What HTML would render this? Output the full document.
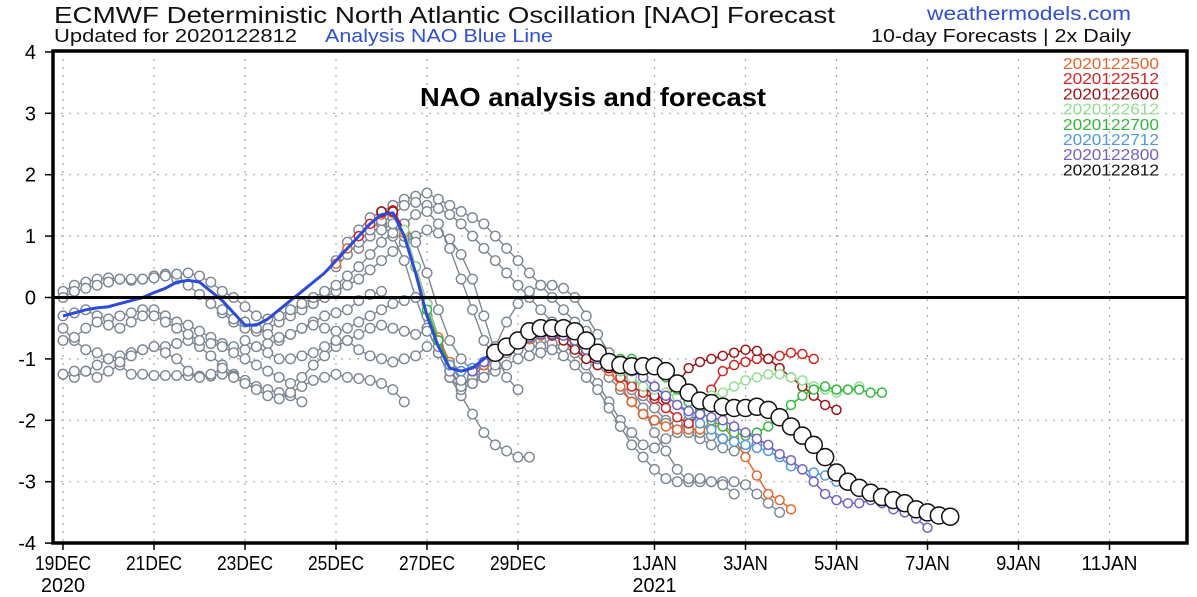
<!DOCTYPE html>
<html><head><meta charset="utf-8"><style>
html,body{margin:0;padding:0;background:#fff;}
svg{display:block;font-family:"Liberation Sans",sans-serif;}
</style></head><body>
<svg id="chart" width="1197" height="597" viewBox="0 0 1197 597">
<text x="54" y="23" font-size="23" fill="#111" textLength="781" lengthAdjust="spacingAndGlyphs">ECMWF Deterministic North Atlantic Oscillation [NAO] Forecast</text>
<text x="54" y="42" font-size="18" fill="#111" textLength="243" lengthAdjust="spacingAndGlyphs">Updated for 2020122812</text>
<text x="325" y="42" font-size="18" fill="#2f4fd8" textLength="228" lengthAdjust="spacingAndGlyphs">Analysis NAO Blue Line</text>
<text x="927" y="20" font-size="19" fill="#2f4fd8" textLength="204" lengthAdjust="spacingAndGlyphs">weathermodels.com</text>
<text x="871" y="42" font-size="18" fill="#111" textLength="260" lengthAdjust="spacingAndGlyphs">10-day Forecasts | 2x Daily</text>
<g id="grid"></g>
<g id="marks"></g>
<g id="axes"></g>
<text x="420" y="106" font-size="26" font-weight="bold" fill="#000" textLength="346" lengthAdjust="spacingAndGlyphs">NAO analysis and forecast</text>
<g id="legend"></g>
</svg>
<script>
const yTicks=[4,3,2,1,0,-1,-2,-3,-4];
const xTickDays=[0,2,4,6,8,10,13,15,17,19,21,23];
const xTickLabels=["19DEC","21DEC","23DEC","25DEC","27DEC","29DEC","1JAN","3JAN","5JAN","7JAN","9JAN","11JAN"];
const yearLabels=[["2020",0],["2021",13]];
const legendNames=["2020122500","2020122512","2020122600","2020122612","2020122700","2020122712","2020122800","2020122812"];
const legendColors=["#e8662a","#d8231e","#a01414","#8fe08f","#2fb93a","#4d9be0","#7461c8","#111111"];

const analysisStart=-0.25;
const analysis=[-0.35,-0.3,-0.25,-0.2,-0.17,-0.15,-0.1,-0.05,0.0,0.08,0.15,0.25,0.28,0.25,0.1,-0.05,-0.25,-0.45,-0.45,-0.35,-0.2,-0.05,0.1,0.25,0.4,0.6,0.8,1.0,1.2,1.35,1.38,1.0,0.4,-0.3,-0.8,-1.15,-1.2,-1.15,-1.0,-0.88];

const greyStarts=[-0.25,-0.25,-0.25,-0.25,-0.25,6,6.5,7,8,8,8.25,-0.25,-0.25,-0.25,3.5,4,6,7];
const grey1=[-1.2,-1.25,-1.3,-1.2,-1.1,-1.0,-0.95,-0.9,-0.85,-0.8,-0.8,-0.75,-0.7,-0.8,-0.95,-1.1,-1.25,-1.35,-1.45,-1.5,-1.55,-1.6,-1.7];
const grey2=[-1.3,-1.25,-1.2,-1.2,-1.3,-1.2,-1.1,-1.25,-1.25,-1.27,-1.27,-1.27,-1.27,-1.28,-1.28,-1.25,-1.28];
const grey3=[-2.05];
const grey4=[-0.4,-0.5,-0.7,-0.85,-0.9,-1.0,-1.05,-0.95,-0.85,-0.8,-0.9,-1.0,-1.2,-1.3,-1.25,-1.15,-1.3,-1.4,-1.5,-1.6,-1.65,-1.55,-1.45,-1.35,-1.3,-1.25,-1.3,-1.32,-1.35,-1.4,-1.5,-1.7];
const grey5=[-0.1,0,0.1,0.15,0.2,0.25,0.3,0.3,0.3,0.32,0.35,0.38,0.4,0.35,0.25,0.1,0.0,-0.15,-0.3,-0.35,-0.3,-0.2,-0.1,0.0,0.1,0.2,0.35,0.5,0.7,0.9,1.05,1.2,1.35,1.4,1.2,0.8,0.3,-0.2,-0.7,-1.0];
const grey6=[0.6,0.9,1.1,1.3,1.4,1.5,1.6,1.65,1.7,1.6,1.5,1.4,1.3,1.2,1.0,0.8,0.6,0.4,0.2,0.0,-0.2,-0.4,-0.55];
const grey7=[0.8,1.0,1.2,1.35,1.5,1.55,1.5,1.45,1.35,1.2,1.0,0.8,0.6,0.4,0.2,0.0,-0.2,-0.4,-0.6,-0.8,-0.9,-0.95];
const grey8=[1.2,1.0,0.6,0.0,-0.5,-0.9,-1.3,-1.6,-1.9,-2.2,-2.4,-2.5,-2.6,-2.6];
const grey9=[-0.3,-0.8,-1.2,-1.4,-1.3,-1.1,-0.8,-0.4,-0.1,0.1,0.2,0.2,0.15,0.0,-0.3,-0.6,-0.9,-1.2,-1.5,-1.8,-2.2,-2.5,-2.8,-3.0,-3.0,-3.0,-3.0,-3.0,-3.05,-3.2,-3.35,-3.5];
const grey10=[-0.5,-0.9,-1.3,-1.5,-1.4,-1.2,-0.9,-0.8,-0.75,-0.7,-0.7,-0.75,-0.8,-0.9,-1.1,-1.4,-1.7,-2.0,-2.2,-2.4,-2.45,-2.3,-2.2,-2.0,-1.9];
const grey11=[-0.8,-1.2,-1.45,-1.3,-1.1,-1.0,-0.9,-0.85,-0.8,-0.8,-0.85,-0.95,-1.1,-1.3,-1.5,-1.8,-2.1,-2.4,-2.6,-2.8,-2.95,-3.0,-2.95,-2.95,-3.0,-3.05,-3.2];
const grey12=[0.0,0.1,0.2,0.25,0.3,0.32,0.3,0.28,0.3,0.35,0.38,0.3,0.2,0.05,-0.1,-0.25,-0.4,-0.5,-0.55,-0.5,-0.4,-0.3,-0.2,-0.1,0.0,0.1,0.2,0.3,0.45,0.6,0.75,0.9,1.0,1.1,1.05,0.95,0.7,0.3,-0.3,-0.9,-1.3,-1.5];
const grey13=[-0.2,-0.3,-0.25,-0.2,-0.3,-0.35,-0.3,-0.25,-0.2,-0.2,-0.3,-0.4,-0.45,-0.55,-0.65,-0.75,-0.8,-0.85,-0.8,-0.75,-0.7,-0.6,-0.5,-0.4,-0.3,-0.25,-0.2,-0.05,0.05,0.1];
const grey14=[-0.6,-0.7,-0.65,-0.5,-0.4,-0.45,-0.5,-0.4,-0.3,-0.3,-0.4,-0.5,-0.6,-0.7,-0.75,-0.8,-0.9,-1.0,-1.1,-1.2,-1.3,-1.4,-1.3,-1.1,-0.95,-0.8,-0.7,-0.6,-0.5,-0.45,-0.5,-0.55,-0.6,-0.55];
const grey15=[-0.2,-0.35,-0.4,-0.5,-0.6,-0.65,-0.6,-0.5,-0.45,-0.5,-0.55,-0.5,-0.4,-0.3,-0.2,-0.1,-0.05];
const grey16=[-0.7,-0.8,-0.9,-1.0,-1.0,-0.95,-0.9,-0.8,-0.7,-0.7,-0.85,-0.95,-1.0,-1.05,-1.0,-0.95,-0.8];
const grey17=[0.5,0.7,0.9,1.1,1.25,1.3,1.2,0.9,0.4,-0.2,-0.7,-1.0,-1.2,-1.3,-1.2,-1.1,-1.0,-0.95,-0.9,-0.85,-0.8,-0.8,-0.85,-0.9,-1.0,-1.2,-1.4,-1.6,-1.8,-2.0,-2.1,-2.2,-2.3,-2.4,-2.45,-2.5,-2.45,-2.4];
const grey18=[1.1,1.2,1.0,0.5,-0.1,-0.7,-1.1,-1.35,-1.4,-1.3,-1.1,-0.9,-0.7,-0.55,-0.5,-0.55,-0.6,-0.7,-0.9,-1.1,-1.3,-1.5,-1.7,-1.9,-2.0,-2.05,-2.05,-2.1,-2.2,-2.25,-2.3];
const greySeries=[grey1,grey2,grey3,grey4,grey12,grey6,grey7,grey8,grey9,grey10,grey11,grey5,grey13,grey14,grey15,grey16,grey17,grey18];

const runStarts=[6,6.5,7,7.5,8,8.5,9,9.5];
const run00=[0.55,0.8,1.0,1.2,1.35,1.38,1.05,0.5,-0.1,-0.65,-1.05,-1.2,-1.2,-1.1,-0.95,-0.85,-0.75,-0.68,-0.62,-0.62,-0.65,-0.72,-0.85,-1.0,-1.2,-1.45,-1.7,-1.9,-2.0,-2.1,-2.15,-2.15,-2.15,-2.1,-2.1,-2.3,-2.6,-2.9,-3.2,-3.3,-3.45];
const run12=[1.0,1.2,1.38,1.42,1.1,0.5,-0.1,-0.7,-1.1,-1.2,-1.18,-1.05,-0.92,-0.82,-0.72,-0.65,-0.6,-0.6,-0.62,-0.7,-0.85,-1.0,-1.15,-1.3,-1.45,-1.55,-1.65,-1.8,-1.95,-2.05,-1.9,-1.5,-1.2,-1.1,-1.05,-1.0,-1.0,-0.95,-0.9,-0.92,-1.0];
const run26a=[1.4,1.4,1.1,0.5,-0.1,-0.7,-1.1,-1.2,-1.15,-1.05,-0.92,-0.82,-0.72,-0.65,-0.6,-0.62,-0.7,-0.85,-1.0,-1.1,-1.15,-1.2,-1.3,-1.45,-1.6,-1.65,-1.4,-1.15,-1.05,-1.0,-0.95,-0.9,-0.85,-0.87,-1.0,-1.15,-1.3,-1.45,-1.6,-1.75,-1.83];
const run26b=[1.1,0.5,-0.1,-0.7,-1.1,-1.2,-1.15,-1.05,-0.92,-0.82,-0.72,-0.65,-0.6,-0.6,-0.62,-0.7,-0.85,-1.0,-1.1,-1.2,-1.3,-1.45,-1.5,-1.55,-1.62,-1.65,-1.62,-1.6,-1.55,-1.45,-1.35,-1.3,-1.25,-1.25,-1.3,-1.35,-1.45,-1.5,-1.55,-1.5,-1.45];
const run27a=[-0.2,-0.7,-1.1,-1.2,-1.15,-1.05,-0.92,-0.82,-0.72,-0.65,-0.6,-0.6,-0.62,-0.7,-0.85,-0.95,-1.0,-1.0,-1.0,-1.05,-1.15,-1.3,-1.5,-1.7,-1.85,-2.0,-2.1,-2.2,-2.25,-2.2,-2.1,-1.95,-1.75,-1.6,-1.5,-1.45,-1.5,-1.5,-1.5,-1.55,-1.55];
const run27b=[-1.1,-1.2,-1.15,-1.05,-0.92,-0.82,-0.72,-0.65,-0.6,-0.6,-0.62,-0.7,-0.85,-1.0,-1.1,-1.15,-1.2,-1.3,-1.45,-1.6,-1.75,-1.9,-2.05,-2.15,-2.3,-2.35,-2.4,-2.45,-2.5,-2.6,-2.75,-2.8,-2.85,-2.9,-3.0,-3.05,-3.1,-3.15,-3.2,-3.3,-3.35];
const run28a=[-1.2,-1.05,-0.92,-0.82,-0.72,-0.65,-0.6,-0.6,-0.62,-0.7,-0.85,-1.0,-1.1,-1.15,-1.2,-1.3,-1.45,-1.6,-1.75,-1.85,-1.9,-1.95,-2.0,-2.1,-2.2,-2.3,-2.4,-2.55,-2.65,-2.8,-3.0,-3.2,-3.3,-3.35,-3.35,-3.3,-3.35,-3.45,-3.5,-3.6,-3.75];
const run28b=[-0.9,-0.8,-0.7,-0.55,-0.5,-0.5,-0.5,-0.55,-0.7,-0.9,-1.05,-1.1,-1.12,-1.12,-1.12,-1.2,-1.4,-1.55,-1.68,-1.72,-1.78,-1.8,-1.8,-1.78,-1.83,-1.95,-2.1,-2.25,-2.4,-2.6,-2.85,-3.0,-3.1,-3.18,-3.25,-3.3,-3.35,-3.45,-3.5,-3.55,-3.57];
const runSeries=[run00,run12,run26a,run26b,run27a,run27b,run28a,run28b];

const NS="http://www.w3.org/2000/svg";
const X0=63, PXDAY=45.5, Y0=297.5, PXU=61.4, L=53, R=1187, T=51, B=543;
function xs(d){return X0+d*PXDAY;}
function ys(v){return Y0-v*PXU;}
function mk(tag,attrs,parent){const e=document.createElementNS(NS,tag);for(const k in attrs)e.setAttribute(k,attrs[k]);parent.appendChild(e);return e;}
const grid=document.getElementById('grid'),marks=document.getElementById('marks'),axes=document.getElementById('axes'),legend=document.getElementById('legend');

yTicks.forEach(v=>{
  if(v!==0&&v!==4&&v!==-4){const g=mk('line',{x1:L,x2:R,y1:ys(v),y2:ys(v),stroke:'#aaa','stroke-width':1.2,'stroke-dasharray':'2,6'},grid);
  
  }
  const t=mk('text',{x:36,y:ys(v)+7,'font-size':20,'text-anchor':'end',fill:'#000'},axes);
  t.textContent=String(v);
  
  
  const tk=mk('line',{x1:L-8,x2:L,y1:ys(v),y2:ys(v),stroke:'#000','stroke-width':1.5},axes);
  
  
});
xTickDays.forEach((d,i)=>{
  const g=mk('line',{x1:xs(d),x2:xs(d),y1:T,y2:B,stroke:'#aaa','stroke-width':1.2,'stroke-dasharray':'2,6'},grid);
  
  
  const tk=mk('line',{x1:xs(d),x2:xs(d),y1:B,y2:B+7,stroke:'#000','stroke-width':1.5},axes);
  
  
  const lab=xTickLabels[i];
  const t=mk('text',{x:xs(d),y:570,'font-size':20,'text-anchor':'middle',fill:'#000',textLength:lab.length*11.2,lengthAdjust:'spacingAndGlyphs'},axes);
  t.textContent=lab;
  
  
});
yearLabels.forEach(([y,d])=>{
  const t=mk('text',{x:xs(d),y:592,'font-size':20,'text-anchor':'middle',fill:'#000',textLength:44,lengthAdjust:'spacingAndGlyphs'},axes);
  t.textContent=y;
  
  
});

function drawSeries(start,vals,color,r,sw,name){
  const g=mk('g',{},marks);
  
  
  const pts=vals.map((v,i)=>[xs(start+i*0.25),ys(v)]).filter(p=>p[0]>=L);
  if(pts.length>1){const pl=mk('polyline',{points:pts.map(p=>p[0].toFixed(1)+','+p[1].toFixed(1)).join(' '),fill:'none',stroke:color,'stroke-width':sw},g);
  
  }
  pts.forEach(p=>{const c=mk('circle',{cx:p[0],cy:p[1],r:r,fill:'#fff',stroke:color,'stroke-width':sw},g);
  
  });
}
greySeries.forEach((s,i)=>drawSeries(greyStarts[i],s,'#7b8794',4.8,1.4,'grey-run-'+(i+1)));
for(let i=0;i<7;i++)drawSeries(runStarts[i],runSeries[i],legendColors[i],4.5,1.5,'run-'+legendNames[i]);
const ap=analysis.map((v,i)=>[xs(analysisStart+i*0.25),ys(v)]).filter(p=>p[0]>=L-1);
const al=mk('polyline',{points:ap.map(p=>p[0].toFixed(1)+','+p[1].toFixed(1)).join(' '),fill:'none',stroke:'#2a4ae0','stroke-width':3,'stroke-linejoin':'round'},marks);


drawSeries(runStarts[7],runSeries[7],'#111',8.5,1.5,'run-'+legendNames[7]);

const zl=mk('line',{x1:L,x2:R,y1:ys(0),y2:ys(0),stroke:'#000','stroke-width':3},axes);


const fr=mk('path',{d:`M${L},${T} H${R} V${B} H${L} Z`,fill:'none',stroke:'#000','stroke-width':3.5},axes);



legendNames.forEach((n,i)=>{
  const t=mk('text',{x:1063,y:69+i*15.2,'font-size':16,fill:legendColors[i],textLength:96,lengthAdjust:'spacingAndGlyphs'},legend);
  t.textContent=n;
  
  
});
</script>
</body></html>
